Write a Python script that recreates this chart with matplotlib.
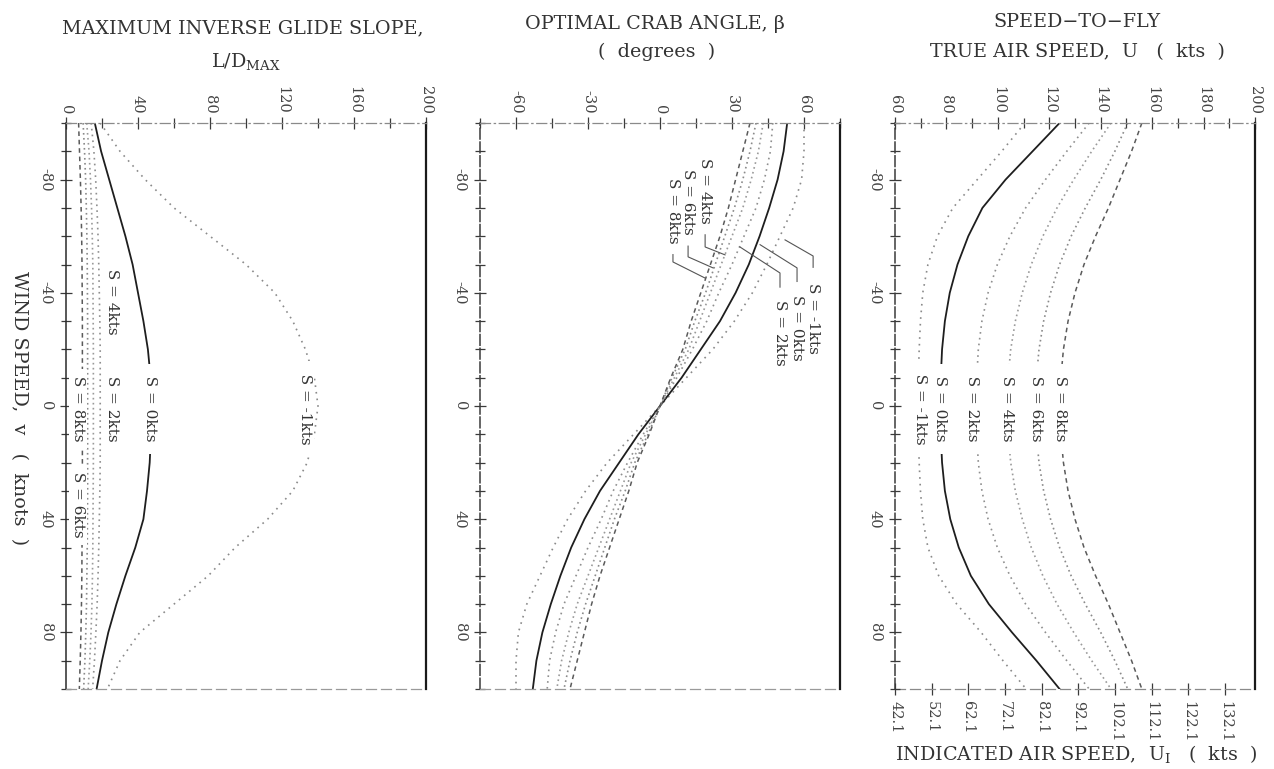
import matplotlib
matplotlib.use("Agg")
import matplotlib.pyplot as plt
from matplotlib.ticker import FixedLocator, MultipleLocator

plt.rcParams['font.family'] = ['DejaVu Serif']
plt.rcParams['mathtext.fontset'] = 'dejavuserif'
plt.rcParams['axes.unicode_minus'] = False

# ---------------------------------------------------------------- data
wind = [-100, -90, -80, -70, -60, -50, -40, -30, -20, -10, 0,
        10, 20, 30, 40, 50, 60, 70, 80, 90, 100]
sink_rates = [-1, 0, 2, 4, 6, 8]

# maximum inverse glide slope L/D_max
ld_m1 = [19, 30, 44, 60, 80, 100, 116, 126, 133, 138, 140,
         138, 134, 126, 112, 94, 79, 60, 41, 30, 23]
ld_0 = [16, 19.5, 24, 28.5, 33, 37, 40, 43, 45.5, 47, 47.5,
        47.2, 46.5, 45, 43, 38.5, 33, 28, 23.5, 20, 17]
ld_2 = [14, 15.5, 16.5, 17.2, 17.8, 18.2, 18.5, 18.8, 19, 19, 19,
        19, 19, 18.8, 18.5, 18.2, 17.8, 17.3, 16.6, 15.8, 14.8]
ld_4 = [11.5, 12.8, 13.6, 14.2, 14.6, 14.9, 15, 15.1, 15.2, 15.2, 15.2,
        15.2, 15.2, 15.1, 15, 14.9, 14.7, 14.4, 13.9, 13.2, 12.3]
ld_6 = [9.5, 10.3, 10.9, 11.3, 11.6, 11.8, 11.9, 12, 12, 12, 12,
        12, 12, 12, 11.9, 11.8, 11.6, 11.4, 11, 10.5, 9.8]
ld_8 = [7, 7.5, 8, 8.4, 8.7, 8.9, 9, 9.1, 9.1, 9.1, 9.1,
        9.1, 9.1, 9.1, 9, 8.9, 8.8, 8.6, 8.3, 7.9, 7.4]

# optimal crab angle beta (degrees)
cr_m1 = [60, 60, 59, 55.5, 50, 44.5, 38.5, 31, 22, 11, 0,
         -11, -22, -31, -38.5, -44.5, -50, -55.5, -59, -60, -60]
cr_0 = [53, 51.5, 49, 45.5, 41.5, 37, 31.5, 25, 17, 9, 0,
        -9, -17, -25, -31.5, -37, -41.5, -45.5, -49, -51.5, -53]
cr_2 = [47, 46, 43.5, 40, 35, 30, 24.5, 19.5, 13.5, 7, 0,
        -7, -13.5, -19.5, -24.5, -30, -35, -40, -43.5, -46, -47]
cr_4 = [43, 41, 38, 34.5, 30, 25.5, 21, 16.5, 12, 6, 0,
        -6, -12, -16.5, -21, -25.5, -30, -34.5, -38, -41, -43]
cr_6 = [40, 37.5, 34.5, 31, 27, 23, 19, 14.5, 10.5, 5, 0,
        -5, -10.5, -14.5, -19, -23, -27, -31, -34.5, -37.5, -40]
cr_8 = [37.5, 34.5, 31.5, 28.5, 25, 21, 17, 13, 9.5, 4.5, 0,
        -4.5, -9.5, -13, -17, -21, -25, -28.5, -31.5, -34.5, -37.5]

# speed-to-fly, true air speed (kts)
sp_m1 = [110.5, 101.5, 92, 82.5, 76.5, 72.8, 70.8, 69.9, 69.4, 69.1, 69,
         69.1, 69.4, 69.9, 70.8, 72.8, 77, 84, 93.5, 102, 111]
sp_0 = [124, 113.5, 103, 94, 88.5, 84.3, 81.3, 79.4, 78.3, 77.8, 77.5,
        77.8, 78.3, 79.4, 81.5, 84.8, 89.5, 96.5, 105.5, 115, 124]
sp_2 = [135.5, 126.8, 118.5, 110.8, 104.7, 99.8, 96.2, 93.8, 92.4, 91.8, 91.5,
        91.8, 92.4, 93.8, 96.2, 99.8, 104.7, 110.8, 118.5, 126.8, 135.5]
sp_4 = [144, 136.5, 129.5, 123, 117.5, 113, 109.5, 106.8, 105, 104, 103.5,
        104, 105, 106.8, 109.5, 113, 117.5, 123, 129.5, 136.5, 144]
sp_6 = [150.5, 145.5, 140, 134, 128.5, 124, 120.5, 117.8, 116, 115, 114.5,
        115, 116, 117.8, 120.5, 124, 128.5, 134, 140, 145.5, 150.5]
sp_8 = [156, 152, 147.5, 143, 138, 133.5, 130, 127.3, 125.5, 124.5, 124,
        124.5, 125.5, 127.3, 130, 133.5, 138, 143, 147.5, 152, 156]

ld_series = [ld_m1, ld_0, ld_2, ld_4, ld_6, ld_8]
cr_series = [cr_m1, cr_0, cr_2, cr_4, cr_6, cr_8]
sp_series = [sp_m1, sp_0, sp_2, sp_4, sp_6, sp_8]

ias_ticks = [42.1, 52.1, 62.1, 72.1, 82.1, 92.1, 102.1, 112.1, 122.1, 132.1]
density_ratio = 42.1 / 60.0   # IAS / TAS

# --------------------------------------------------------------- styles
line_styles = {
    -1: dict(color='#8a8a8a', lw=1.2, ls=(0, (1, 3))),
    0: dict(color='#1e1e1e', lw=1.3, ls='-'),
    2: dict(color='#8f8f8f', lw=1.2, ls=(0, (1, 2.5))),
    4: dict(color='#9a9a9a', lw=1.2, ls=(0, (1, 2))),
    6: dict(color='#8a8a8a', lw=1.2, ls=(0, (1, 2))),
    8: dict(color='#5a5a5a', lw=1.1, ls=(0, (3, 2.5))),
}
TXT = '#333333'

W, H = 1274, 769
fig = plt.figure(figsize=(W / 100, H / 100), dpi=100)


def px_axes(x0, x1, y0=123, y1=689):
    return fig.add_axes([x0 / W, 1 - y1 / H, (x1 - x0) / W, (y1 - y0) / H])


def setup(ax, xlim, major, minor):
    ax.set_xlim(*xlim)
    ax.set_ylim(100, -100)
    ax.xaxis.tick_top()
    ax.xaxis.set_major_locator(FixedLocator(major))
    ax.xaxis.set_minor_locator(MultipleLocator(minor))
    ax.yaxis.set_major_locator(FixedLocator([-80, -40, 0, 40, 80]))
    ax.yaxis.set_minor_locator(MultipleLocator(10))
    ax.tick_params(which='both', direction='inout', color='#3a3a3a',
                   width=0.9, labelcolor='#444444', labelsize=10.5)
    ax.tick_params(which='major', length=9)
    ax.tick_params(which='minor', length=7)
    ax.tick_params(axis='x', which='both', top=True, bottom=False,
                   labeltop=True, labelbottom=False, labelrotation=-90, pad=2)
    ax.tick_params(axis='y', which='both', left=True, right=False,
                   labelrotation=-90, pad=5)
    plt.setp(ax.get_yticklabels(), va='center')
    ax.spines['right'].set_linewidth(1.6)
    ax.spines['right'].set_color('#1a1a1a')
    ax.spines['left'].set_linestyle((0, (7, 2)))
    ax.spines['left'].set_color('#3a3a3a')
    ax.spines['left'].set_linewidth(1.1)
    ax.spines['top'].set_linestyle((0, (8, 3, 1, 3)))
    ax.spines['top'].set_color('#8a8a8a')
    ax.spines['top'].set_linewidth(0.9)
    ax.spines['bottom'].set_linestyle((0, (8, 4)))
    ax.spines['bottom'].set_color('#9a9a9a')
    ax.spines['bottom'].set_linewidth(0.9)


def draw_curves(ax, series):
    for s, vals in zip(sink_rates, series):
        ax.plot(vals, wind, **line_styles[s], zorder=2)


def curve_label(ax, x, y, s, size=11, box=True):
    kw = dict(rotation=-90, ha='center', va='center', fontsize=size,
              color=TXT, zorder=4)
    if box:
        kw['bbox'] = dict(boxstyle='square,pad=0.15', fc='white', ec='none')
    ax.text(x, y, s, **kw)


# ------------------------------------------------------- L/D max panel
ax1 = px_axes(66, 426)
setup(ax1, (0, 200), [0, 40, 80, 120, 160, 200], 20)
ax1.spines['left'].set_linestyle('-')
ax1.spines['left'].set_color('#2a2a2a')
draw_curves(ax1, ld_series)
curve_label(ax1, 132.8, 1, "  S = -1kts  ")
curve_label(ax1, 46.7, 1, "  S = 0kts  ")
curve_label(ax1, 25.5, 1, " S = 2kts ")
curve_label(ax1, 25.5, -37, " S = 4kts ")
curve_label(ax1, 6.7, 1, " S = 8kts ")
curve_label(ax1, 6.7, 35, " S = 6kts ")

# ------------------------------------------------- crab angle panel
ax2 = px_axes(480, 840)
setup(ax2, (-75, 75), [-60, -30, 0, 30, 60], 15)
draw_curves(ax2, cr_series)

# label x, label y, leader polyline (x list, y list)
crab_labels = [
    ("S = -1kts", 63.8, -31, [52.1, 63.8, 63.8], [-58.7, -53.0, -49.0]),
    ("S = 0kts", 57.1, -27.5, [41.7, 57.1, 57.1], [-57.0, -48.8, -44.0]),
    ("S = 2kts", 50.0, -26, [33.3, 50.0, 50.0], [-56.2, -47.0, -42.0]),
    ("S = 4kts", 18.8, -76, [27.1, 18.8, 18.8], [-53.4, -56.2, -60.5]),
    ("S = 6kts", 11.7, -72, [22.1, 11.7, 11.7], [-48.8, -52.7, -56.5]),
    ("S = 8kts", 5.4, -69, [18.8, 5.4, 5.4], [-45.2, -50.9, -53.5]),
]
for text, lx, ly, px, py in crab_labels:
    ax2.plot(px, py, color='#555555', lw=0.8, zorder=3)
    curve_label(ax2, lx, ly, text)

# ------------------------------------------------- speed-to-fly panel
ax3 = px_axes(895, 1255)
setup(ax3, (60, 200), [60, 80, 100, 120, 140, 160, 180, 200], 10)
draw_curves(ax3, sp_series)
for s, lx in zip(sink_rates, [69.7, 77.5, 90, 103.5, 115, 124]):
    curve_label(ax3, lx, 1, f"  S = {s}kts  ")

ax3.spines['bottom'].set_visible(False)
sec = ax3.secondary_xaxis('bottom', functions=(lambda t: t * density_ratio,
                                               lambda i: i / density_ratio))
sec.set_xticks(ias_ticks)
sec.set_xticklabels([f"{t:.1f}" for t in ias_ticks])
sec.tick_params(direction='inout', length=9, width=0.9, color='#3a3a3a',
                labelcolor='#444444', labelsize=10.5, labelrotation=-90, pad=4)
sec.spines['bottom'].set_linestyle((0, (8, 4)))
sec.spines['bottom'].set_color('#8a8a8a')
sec.spines['bottom'].set_linewidth(0.9)

# ------------------------------------------------------------- titles
def ftext(x, y, s, **kw):
    opts = dict(ha='center', va='center', fontsize=13.8, color=TXT)
    opts.update(kw)
    fig.text(x / W, 1 - y / H, s, **opts)


ftext(243, 28, "MAXIMUM INVERSE GLIDE SLOPE,")
ftext(246, 61, r"L/D$_{\rm MAX}$")
ftext(655, 24, "OPTIMAL CRAB ANGLE, β")
ftext(657, 52, "(  degrees  )")
ftext(1077, 22, "SPEED−TO−FLY")
ftext(1077, 52, "TRUE AIR SPEED,  U   (  kts  )")
ftext(1076, 754, r"INDICATED AIR SPEED,  U$_{\rm I}$   (  kts  )")
ftext(19, 408, "WIND SPEED,  v   (  knots  )", rotation=-90)

fig.savefig("out.png", dpi=100, facecolor='white')
